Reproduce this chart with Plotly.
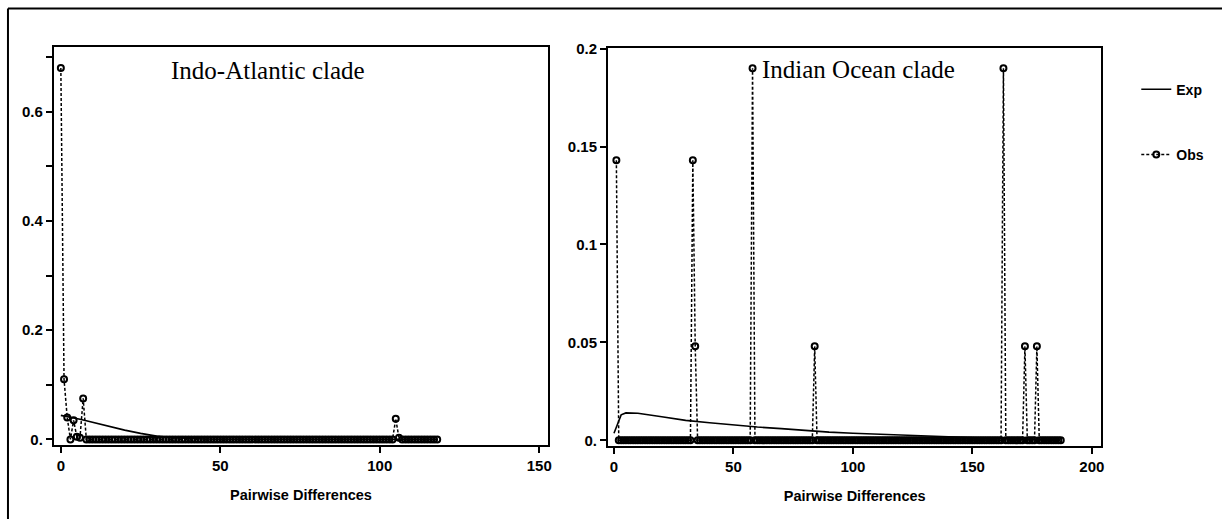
import plotly.graph_objects as go

# ---------------- data ----------------
# Indo-Atlantic clade: observed mismatch frequencies for pairwise differences 0..118
ia_obs_x = list(range(0, 119))
ia_obs_y = [
    0.68, 0.11, 0.04, 0.0, 0.035, 0.005, 0.003, 0.075, 0.0, 0.0,
    0.0, 0.0, 0.0, 0.0, 0.0, 0.0, 0.0, 0.0, 0.0, 0.0,
    0.0, 0.0, 0.0, 0.0, 0.0, 0.0, 0.0, 0.0, 0.0, 0.0,
    0.0, 0.0, 0.0, 0.0, 0.0, 0.0, 0.0, 0.0, 0.0, 0.0,
    0.0, 0.0, 0.0, 0.0, 0.0, 0.0, 0.0, 0.0, 0.0, 0.0,
    0.0, 0.0, 0.0, 0.0, 0.0, 0.0, 0.0, 0.0, 0.0, 0.0,
    0.0, 0.0, 0.0, 0.0, 0.0, 0.0, 0.0, 0.0, 0.0, 0.0,
    0.0, 0.0, 0.0, 0.0, 0.0, 0.0, 0.0, 0.0, 0.0, 0.0,
    0.0, 0.0, 0.0, 0.0, 0.0, 0.0, 0.0, 0.0, 0.0, 0.0,
    0.0, 0.0, 0.0, 0.0, 0.0, 0.0, 0.0, 0.0, 0.0, 0.0,
    0.0, 0.0, 0.0, 0.0, 0.0, 0.038, 0.003, 0.0, 0.0, 0.0,
    0.0, 0.0, 0.0, 0.0, 0.0, 0.0, 0.0, 0.0, 0.0,
]
# Indo-Atlantic clade: expected frequencies
ia_exp_x = [0, 2, 4, 6, 8, 10, 15, 20, 25, 30, 35, 40, 45, 50, 60, 80, 100, 118]
ia_exp_y = [0.044, 0.042, 0.039, 0.037, 0.034, 0.031, 0.024, 0.017, 0.011, 0.006,
            0.003, 0.0015, 0.0006, 0.0002, 0.0, 0.0, 0.0, 0.0]

# Indian Ocean clade: observed mismatch frequencies for pairwise differences 1..187
io_obs_x = list(range(1, 188))
io_obs_y = [
    0.143, 0.0, 0.0, 0.0, 0.0, 0.0, 0.0, 0.0, 0.0, 0.0,      # 1-10
    0.0, 0.0, 0.0, 0.0, 0.0, 0.0, 0.0, 0.0, 0.0, 0.0,        # 11-20
    0.0, 0.0, 0.0, 0.0, 0.0, 0.0, 0.0, 0.0, 0.0, 0.0,        # 21-30
    0.0, 0.0, 0.143, 0.048, 0.0, 0.0, 0.0, 0.0, 0.0, 0.0,    # 31-40
    0.0, 0.0, 0.0, 0.0, 0.0, 0.0, 0.0, 0.0, 0.0, 0.0,        # 41-50
    0.0, 0.0, 0.0, 0.0, 0.0, 0.0, 0.0, 0.19, 0.0, 0.0,       # 51-60
    0.0, 0.0, 0.0, 0.0, 0.0, 0.0, 0.0, 0.0, 0.0, 0.0,        # 61-70
    0.0, 0.0, 0.0, 0.0, 0.0, 0.0, 0.0, 0.0, 0.0, 0.0,        # 71-80
    0.0, 0.0, 0.0, 0.048, 0.0, 0.0, 0.0, 0.0, 0.0, 0.0,      # 81-90
    0.0, 0.0, 0.0, 0.0, 0.0, 0.0, 0.0, 0.0, 0.0, 0.0,        # 91-100
    0.0, 0.0, 0.0, 0.0, 0.0, 0.0, 0.0, 0.0, 0.0, 0.0,        # 101-110
    0.0, 0.0, 0.0, 0.0, 0.0, 0.0, 0.0, 0.0, 0.0, 0.0,        # 111-120
    0.0, 0.0, 0.0, 0.0, 0.0, 0.0, 0.0, 0.0, 0.0, 0.0,        # 121-130
    0.0, 0.0, 0.0, 0.0, 0.0, 0.0, 0.0, 0.0, 0.0, 0.0,        # 131-140
    0.0, 0.0, 0.0, 0.0, 0.0, 0.0, 0.0, 0.0, 0.0, 0.0,        # 141-150
    0.0, 0.0, 0.0, 0.0, 0.0, 0.0, 0.0, 0.0, 0.0, 0.0,        # 151-160
    0.0, 0.0, 0.19, 0.0, 0.0, 0.0, 0.0, 0.0, 0.0, 0.0,       # 161-170
    0.0, 0.048, 0.0, 0.0, 0.0, 0.0, 0.048, 0.0, 0.0, 0.0,    # 171-180
    0.0, 0.0, 0.0, 0.0, 0.0, 0.0, 0.0,                       # 181-187
]
# Indian Ocean clade: expected frequencies
io_exp_x = [0, 3, 5, 10, 20, 30, 40, 50, 60, 70, 80, 90, 100, 110, 120, 130,
            140, 150, 160, 170, 180, 187]
io_exp_y = [0.0036, 0.013, 0.014, 0.0138, 0.012, 0.0102, 0.009, 0.0078, 0.0068,
            0.006, 0.005, 0.0042, 0.0036, 0.0031, 0.0028, 0.0022, 0.0018, 0.0013,
            0.0009, 0.0005, 0.0003, 0.0002]

ia_xticks = [0, 50, 100, 150]
ia_yticks = [0.0, 0.1, 0.2, 0.3, 0.4, 0.5, 0.6, 0.7]
ia_yticklabels = ["0.", "", "0.2", "", "0.4", "", "0.6", ""]
io_xticks = [0, 50, 100, 150, 200]
io_yticks = [0.0, 0.05, 0.1, 0.15, 0.2]
io_yticklabels = ["0.", "0.05", "0.1", "0.15", "0.2"]

panel_titles = ["Indo-Atlantic clade", "Indian Ocean clade"]
x_title = "Pairwise Differences"
series_names = ["Exp", "Obs"]

# ---------------- figure ----------------
W, H = 1226, 521
SANS = "Liberation Sans, Arial, sans-serif"
SERIF = "Liberation Serif, Times New Roman, serif"

def px(x):
    return x / W

def py(y):
    # vertical pixel -> paper fraction (compensating the observed capture offset/scale)
    yy = (y - 8.4) / 0.979
    return (H - yy) / H

fig = go.Figure()

exp_line = dict(color="black", width=1.6)
obs_line = dict(color="black", width=1.5, dash="3px,2px")
obs_marker = dict(symbol="circle-open", size=6, color="black", line=dict(width=2, color="black"))

fig.add_trace(go.Scatter(x=ia_exp_x, y=ia_exp_y, mode="lines", line=exp_line,
                         name=series_names[0], legendgroup="exp", showlegend=True,
                         xaxis="x", yaxis="y"))
fig.add_trace(go.Scatter(x=ia_obs_x, y=ia_obs_y, mode="lines+markers", line=obs_line,
                         marker=obs_marker, name=series_names[1], legendgroup="obs",
                         showlegend=True, xaxis="x", yaxis="y"))
fig.add_trace(go.Scatter(x=io_exp_x, y=io_exp_y, mode="lines", line=exp_line,
                         name=series_names[0], legendgroup="exp", showlegend=False,
                         xaxis="x2", yaxis="y2"))
fig.add_trace(go.Scatter(x=io_obs_x, y=io_obs_y, mode="lines+markers", line=obs_line,
                         marker=obs_marker, name=series_names[1], legendgroup="obs",
                         showlegend=False, xaxis="x2", yaxis="y2"))

axis_common = dict(showline=True, linecolor="black", linewidth=2, mirror=True,
                   ticks="outside", ticklen=6, tickwidth=1.5, tickcolor="black",
                   showgrid=False, zeroline=False,
                   tickfont=dict(family=SANS, size=15, color="black", weight="bold"))

title_font = dict(family=SANS, size=14.5, color="black", weight="bold")

fig.update_layout(
    width=W, height=H,
    margin=dict(l=0, r=0, t=0, b=0),
    paper_bgcolor="white", plot_bgcolor="white",
    xaxis=dict(domain=[px(54), px(550)], range=[-2.2, 152.8], anchor="y",
               tickvals=ia_xticks,
               title=dict(text=x_title, font=title_font, standoff=16),
               **axis_common),
    yaxis=dict(domain=[py(445), py(47)], range=[-0.011, 0.719], anchor="x",
               tickvals=ia_yticks, ticktext=ia_yticklabels, **axis_common),
    xaxis2=dict(domain=[px(610), px(1105)], range=[-2.5, 204], anchor="y2",
                tickvals=io_xticks,
                title=dict(text=x_title, font=title_font, standoff=16),
                **axis_common),
    yaxis2=dict(domain=[py(446), py(48)], range=[-0.0031, 0.2005], anchor="x2",
                tickvals=io_yticks, ticktext=io_yticklabels, **axis_common),
    showlegend=True,
    legend=dict(x=px(1140), y=py(74), xanchor="left", yanchor="top",
                traceorder="grouped", tracegroupgap=44,
                font=dict(family=SANS, size=14, color="black", weight="bold"),
                bgcolor="rgba(0,0,0,0)", borderwidth=0),
    annotations=[
        dict(text=panel_titles[0], xref="x", yref="y", x=65, y=0.675,
             xanchor="center", yanchor="middle", showarrow=False,
             font=dict(family=SERIF, size=25, color="black")),
        dict(text=panel_titles[1], xref="x2", yref="y2", x=61, y=0.1893,
             xanchor="left", yanchor="middle", showarrow=False,
             font=dict(family=SERIF, size=25, color="black")),
    ],
    shapes=[
        dict(type="line", xref="paper", yref="paper", x0=px(8), x1=1.0, y0=py(9), y1=py(9),
             line=dict(color="black", width=2)),
        dict(type="line", xref="paper", yref="paper", x0=px(8), x1=px(8), y0=py(9), y1=0,
             line=dict(color="black", width=2)),
    ],
)

fig.write_html("out.html")
